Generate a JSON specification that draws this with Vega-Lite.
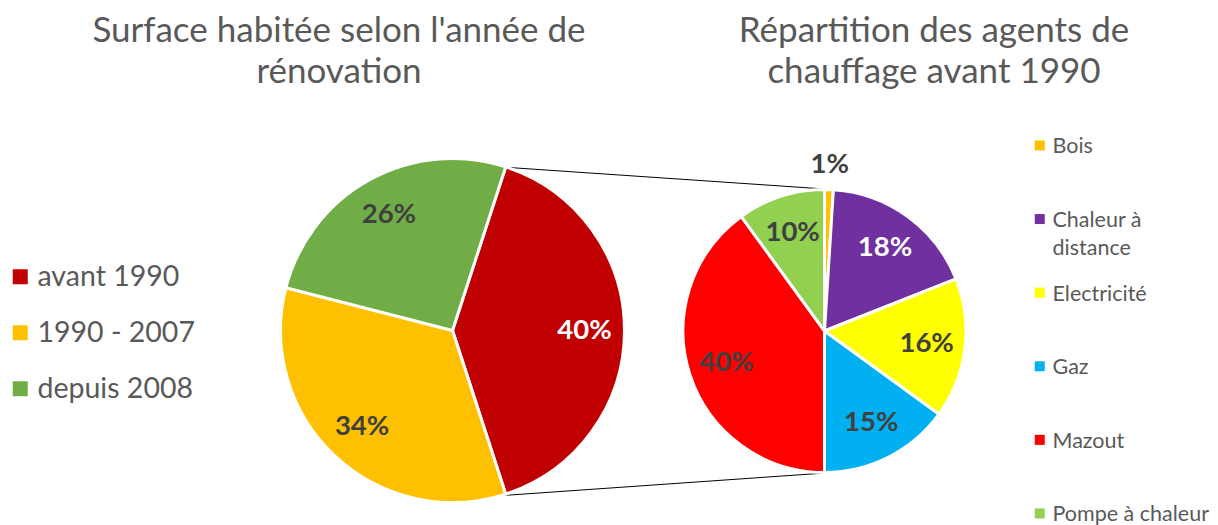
{
  "$schema": "https://vega.github.io/schema/vega-lite/v6.json",
  "width": 1218,
  "height": 525,
  "padding": 0,
  "autosize": {"type": "none"},
  "background": "white",
  "config": {
    "view": {"stroke": null},
    "style": {"guide-label": {"lineHeight": 28}}
  },
  "datasets": {
    "surface": [
      {"periode": "avant 1990", "part": 0.40, "ordre": 1},
      {"periode": "1990 - 2007", "part": 0.34, "ordre": 2},
      {"periode": "depuis 2008", "part": 0.26, "ordre": 3}
    ],
    "agents": [
      {"agent": "Bois", "part": 0.01, "ordre": 1},
      {"agent": "Chaleur à distance", "part": 0.18, "ordre": 2},
      {"agent": "Electricité", "part": 0.16, "ordre": 3},
      {"agent": "Gaz", "part": 0.15, "ordre": 4},
      {"agent": "Mazout", "part": 0.40, "ordre": 5},
      {"agent": "Pompe à chaleur", "part": 0.10, "ordre": 6}
    ],
    "annot": [{}]
  },
  "layer": [
    {
      "data": {"name": "annot"},
      "mark": {"type": "rule", "color": "black", "strokeWidth": 1},
      "encoding": {
        "x": {"datum": 509, "type": "quantitative", "scale": {"domain": [0, 1218], "nice": false, "zero": false}, "axis": null},
        "y": {"datum": 167.5, "type": "quantitative", "scale": {"domain": [0, 525], "nice": false, "zero": false, "reverse": true}, "axis": null},
        "x2": {"datum": 825},
        "y2": {"datum": 189}
      }
    },
    {
      "data": {"name": "annot"},
      "mark": {"type": "rule", "color": "black", "strokeWidth": 1},
      "encoding": {
        "x": {"datum": 506, "type": "quantitative", "axis": null},
        "y": {"datum": 495.3, "type": "quantitative", "axis": null},
        "x2": {"datum": 844},
        "y2": {"datum": 471.7}
      }
    },
    {
      "data": {"name": "surface"},
      "encoding": {
        "x": {"datum": 452.5, "type": "quantitative", "axis": null},
        "y": {"datum": 330.5, "type": "quantitative", "axis": null},
        "theta": {"field": "part", "type": "quantitative", "stack": true, "scale": {"domain": [0, 1], "range": [0.3142, 6.5974]}},
        "order": {"field": "ordre", "type": "quantitative"}
      },
      "layer": [
        {
          "mark": {"type": "arc", "outerRadius": 172, "stroke": "white", "strokeWidth": 3},
          "encoding": {
            "color": {
              "field": "periode",
              "type": "nominal",
              "scale": {"domain": ["avant 1990", "1990 - 2007", "depuis 2008"], "range": ["#C00000", "#FFC000", "#70AD47"]},
              "legend": {
                "orient": "none", "legendX": 6, "legendY": 262.5, "title": null, "padding": 0,
                "symbolType": "square", "symbolSize": 225, "symbolStrokeWidth": 0,
                "labelFont": "Lato", "labelFontSize": 28.5, "labelColor": "#595959",
                "labelOffset": 3, "rowPadding": 27, "labelLimit": 300
              }
            }
          }
        },
        {
          "mark": {"type": "text", "radius": 132, "font": "Lato", "fontSize": 27.5, "fontWeight": "bold"},
          "encoding": {
            "text": {"field": "part", "type": "quantitative", "format": ".0%"},
            "color": {"condition": {"test": "datum.periode === 'avant 1990'", "value": "#FFFFFF"}, "value": "#404040"}
          }
        }
      ]
    },
    {
      "data": {"name": "agents"},
      "encoding": {
        "x": {"datum": 824.5, "type": "quantitative", "axis": null},
        "y": {"datum": 331, "type": "quantitative", "axis": null},
        "theta": {"field": "part", "type": "quantitative", "stack": true, "scale": {"domain": [0, 1], "range": [0, 6.2832]}},
        "order": {"field": "ordre", "type": "quantitative"}
      },
      "layer": [
        {
          "mark": {"type": "arc", "outerRadius": 141.5, "stroke": "white", "strokeWidth": 3},
          "encoding": {
            "color": {
              "field": "agent",
              "type": "nominal",
              "scale": {
                "domain": ["Bois", "Chaleur à distance", "Electricité", "Gaz", "Mazout", "Pompe à chaleur"],
                "range": ["#FFC000", "#7030A0", "#FFFF00", "#00B0F0", "#FF0000", "#92D050"]
              },
              "legend": {
                "orient": "none", "legendX": 1029, "legendY": 125.7, "title": null, "padding": 0,
                "symbolType": "M-1,0.8H1V2.8H-1Z", "symbolSize": 100, "symbolStrokeWidth": 0,
                "labelFont": "Lato", "labelFontSize": 21.5, "labelColor": "#595959",
                "labelBaseline": "top", "labelOffset": 2, "rowPadding": 12.6, "labelLimit": 300,
                "labelExpr": "datum.label == 'Chaleur à distance' ? ['Chaleur à', 'distance'] : [datum.label, '']"
              }
            }
          }
        },
        {
          "mark": {"type": "text", "radius": 103, "font": "Lato", "fontSize": 27.5, "fontWeight": "bold"},
          "encoding": {
            "text": {"field": "part", "type": "quantitative", "format": ".0%", "condition": {"test": "datum.part < 0.05", "value": ""}},
            "color": {"condition": {"test": "datum.agent === 'Chaleur à distance'", "value": "#FFFFFF"}, "value": "#404040"}
          }
        },
        {
          "mark": {"type": "text", "radius": 166, "font": "Lato", "fontSize": 27.5, "fontWeight": "bold", "color": "#404040"},
          "encoding": {
            "text": {"field": "part", "type": "quantitative", "format": ".0%", "condition": {"test": "datum.part >= 0.05", "value": ""}}
          }
        }
      ]
    },
    {
      "data": {"name": "annot"},
      "mark": {"type": "text", "text": ["Surface habitée selon l'année de", "rénovation"], "font": "Lato", "fontSize": 35, "color": "#595959", "align": "center", "baseline": "alphabetic", "lineHeight": 41},
      "encoding": {"x": {"datum": 339, "type": "quantitative"}, "y": {"datum": 42, "type": "quantitative"}}
    },
    {
      "data": {"name": "annot"},
      "mark": {"type": "text", "text": ["Répartition des agents de", "chauffage avant 1990"], "font": "Lato", "fontSize": 35, "color": "#595959", "align": "center", "baseline": "alphabetic", "lineHeight": 41},
      "encoding": {"x": {"datum": 934, "type": "quantitative"}, "y": {"datum": 42, "type": "quantitative"}}
    }
  ],
  "resolve": {"scale": {"theta": "independent", "color": "independent"}}
}
